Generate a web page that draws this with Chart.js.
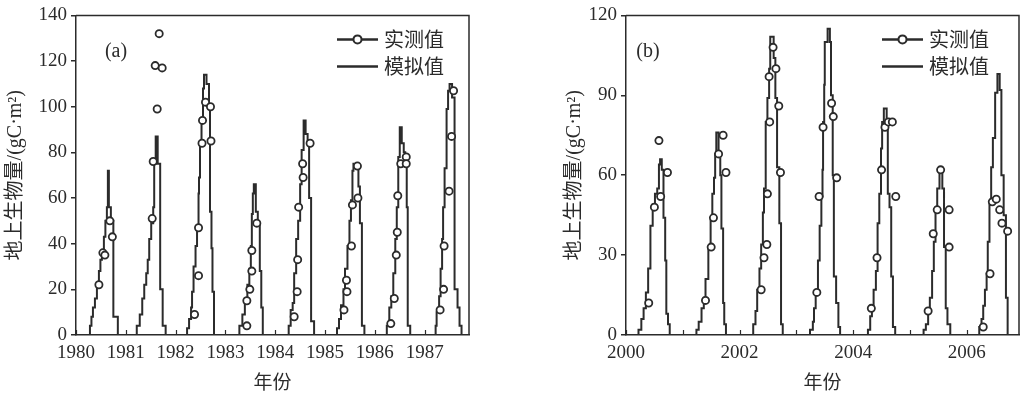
<!DOCTYPE html>
<html>
<head>
<meta charset="utf-8">
<script src="https://cdn.jsdelivr.net/npm/chart.js@4.4.1/dist/chart.umd.min.js"></script>
<style>
    html, body { margin: 0; padding: 0; background: #fff; }
    body { width: 1027px; height: 396px; position: relative; overflow: hidden; }
    canvas { position: absolute; top: 0; }
    #grafico-a { left: 0; }
    #grafico-b { left: 510px; }
</style>
</head>
<body>
<canvas id="grafico-a" width="500" height="396"></canvas>
<canvas id="grafico-b" width="517" height="396"></canvas>
<script>
// Panel (a): 1980-1987
const xTicksA = [1980, 1981, 1982, 1983, 1984, 1985, 1986, 1987];
const xLabelsA = ['1980', '1981', '1982', '1983', '1984', '1985', '1986', '1987'];
const yTicksA = [0, 20, 40, 60, 80, 100, 120, 140];

// Valores simulados (escalones): año donde empieza el escalón y su valor
const simYearsA = [
    1980.00,
    1980.28, 1980.31, 1980.34, 1980.38, 1980.42, 1980.46, 1980.49, 1980.52, 1980.56, 1980.59, 1980.62, 1980.64, 1980.66, 1980.70, 1980.75, 1980.84,
    1981.22, 1981.28, 1981.33, 1981.37, 1981.41, 1981.44, 1981.47, 1981.51, 1981.55, 1981.57, 1981.60, 1981.64, 1981.69, 1981.74, 1981.80,
    1982.23, 1982.27, 1982.31, 1982.33, 1982.36, 1982.40, 1982.43, 1982.46, 1982.47, 1982.49, 1982.52, 1982.55, 1982.57, 1982.62, 1982.67, 1982.69, 1982.72, 1982.74, 1982.77,
    1983.28, 1983.34, 1983.39, 1983.44, 1983.48, 1983.51, 1983.53, 1983.55, 1983.57, 1983.61, 1983.65, 1983.69, 1983.72, 1983.75,
    1984.27, 1984.31, 1984.35, 1984.38, 1984.42, 1984.46, 1984.50, 1984.53, 1984.57, 1984.61, 1984.65, 1984.68, 1984.72, 1984.78,
    1985.24, 1985.28, 1985.32, 1985.37, 1985.40, 1985.45, 1985.49, 1985.52, 1985.55, 1985.57, 1985.64, 1985.67, 1985.70, 1985.74, 1985.79,
    1986.24, 1986.29, 1986.33, 1986.37, 1986.41, 1986.44, 1986.47, 1986.50, 1986.54, 1986.58, 1986.61, 1986.64, 1986.66, 1986.71,
    1987.22, 1987.24, 1987.29, 1987.32, 1987.35, 1987.37, 1987.40, 1987.44, 1987.47, 1987.50, 1987.55, 1987.60, 1987.66, 1987.70, 1987.74,
    1987.89
];
const simValuesA = [
    0,
    4, 8, 12, 16, 22, 28, 33, 36, 43, 50, 56, 72, 56, 50, 8, 0,
    4, 9, 16, 22, 27, 33, 42, 49, 56, 75, 87, 75, 20, 4, 0,
    3, 7, 12, 19, 30, 39, 48, 62, 69, 83, 93, 108, 114, 110, 100, 54, 38, 19, 0,
    4, 9, 16, 22, 29, 39, 53, 62, 66, 54, 48, 28, 12, 0,
    4, 11, 14, 27, 42, 50, 66, 81, 94, 88, 85, 60, 6, 0,
    3, 7, 13, 20, 29, 39, 50, 59, 72, 75, 73, 65, 49, 4, 0,
    4, 12, 17, 27, 42, 56, 78, 91, 84, 80, 76, 56, 4, 0,
    4, 10, 17, 29, 42, 56, 73, 99, 107, 110, 104, 20, 12, 4, 0,
    0
];
// Valores medidos
const obsYearsA = [
    1980.46, 1980.54, 1980.58, 1980.68, 1980.73,
    1981.53, 1981.55, 1981.59, 1981.63, 1981.67, 1981.73,
    1982.38, 1982.46, 1982.46, 1982.53, 1982.54, 1982.60, 1982.70, 1982.71,
    1983.43, 1983.43, 1983.49, 1983.53, 1983.53, 1983.63,
    1984.38, 1984.44, 1984.45, 1984.47, 1984.55, 1984.56, 1984.70,
    1985.38, 1985.44, 1985.43, 1985.53, 1985.55, 1985.65, 1985.66,
    1986.32, 1986.39, 1986.43, 1986.45, 1986.46, 1986.52, 1986.63, 1986.63,
    1987.31, 1987.38, 1987.39, 1987.49, 1987.54, 1987.58
];
const obsValuesA = [
    22, 36, 35, 50, 43,
    51, 76, 118, 99, 132, 117,
    9, 26, 47, 84, 94, 102, 100, 85,
    4, 15, 20, 28, 37, 49,
    8, 19, 33, 56, 75, 69, 84,
    11, 19, 24, 39, 57, 74, 60,
    5, 16, 35, 45, 61, 75, 78, 75,
    11, 20, 39, 63, 87, 107
];

// Panel (b): 2000-2006
const xTicksB = [2000, 2001, 2002, 2003, 2004, 2005, 2006];
const xLabelsB = ['2000', '', '2002', '', '2004', '', '2006'];
const yTicksB = [0, 30, 60, 90, 120];

const simYearsB = [
    2000.00,
    2000.22, 2000.27, 2000.31, 2000.35, 2000.39, 2000.43, 2000.47, 2000.51, 2000.55, 2000.58, 2000.60, 2000.63, 2000.66, 2000.69, 2000.71, 2000.74, 2000.77,
    2001.24, 2001.28, 2001.33, 2001.37, 2001.40, 2001.45, 2001.49, 2001.52, 2001.55, 2001.57, 2001.59, 2001.63, 2001.66, 2001.68, 2001.71, 2001.73, 2001.76,
    2002.24, 2002.28, 2002.31, 2002.35, 2002.38, 2002.41, 2002.43, 2002.46, 2002.49, 2002.52, 2002.54, 2002.60, 2002.63, 2002.66, 2002.70, 2002.73, 2002.76,
    2003.24, 2003.29, 2003.31, 2003.34, 2003.38, 2003.41, 2003.44, 2003.46, 2003.47, 2003.49, 2003.50, 2003.55, 2003.59, 2003.61, 2003.64, 2003.66, 2003.70, 2003.74, 2003.77,
    2004.26, 2004.30, 2004.33, 2004.36, 2004.40, 2004.43, 2004.46, 2004.49, 2004.51, 2004.54, 2004.59, 2004.61, 2004.64, 2004.67, 2004.70, 2004.74,
    2005.24, 2005.28, 2005.32, 2005.35, 2005.39, 2005.42, 2005.45, 2005.48, 2005.52, 2005.57, 2005.60, 2005.63, 2005.66, 2005.71,
    2006.22, 2006.26, 2006.29, 2006.32, 2006.35, 2006.37, 2006.40, 2006.43, 2006.46, 2006.50, 2006.54, 2006.58, 2006.61, 2006.65, 2006.69, 2006.72,
    2006.92
];
const simValuesB = [
    0,
    2, 6, 10, 16, 25, 41, 49, 53, 55, 64, 66, 62, 44, 28, 8, 4, 0,
    2, 5, 10, 14, 21, 33, 43, 53, 59, 68, 76, 67, 60, 40, 12, 4, 0,
    4, 9, 17, 25, 34, 46, 55, 80, 89, 100, 112, 104, 89, 63, 42, 4, 0,
    2, 5, 10, 16, 28, 41, 52, 62, 80, 94, 110, 115, 110, 90, 60, 22, 12, 3, 0,
    2, 7, 11, 17, 24, 42, 53, 70, 80, 85, 80, 53, 48, 22, 3, 0,
    2, 4, 9, 14, 24, 35, 48, 55, 63, 55, 33, 10, 4, 0,
    3, 6, 11, 17, 23, 35, 49, 63, 74, 91, 98, 92, 60, 45, 14, 0,
    0
];
const obsYearsB = [
    2000.40, 2000.50, 2000.58, 2000.61, 2000.73,
    2001.40, 2001.50, 2001.54, 2001.63, 2001.71, 2001.76,
    2002.38, 2002.43, 2002.48, 2002.49, 2002.53, 2002.52, 2002.59, 2002.64, 2002.69, 2002.72,
    2003.36, 2003.40, 2003.47, 2003.62, 2003.65, 2003.71,
    2004.32, 2004.42, 2004.50, 2004.56, 2004.62, 2004.69, 2004.75,
    2005.32, 2005.41, 2005.48, 2005.54, 2005.69, 2005.69,
    2006.29, 2006.41, 2006.45, 2006.52, 2006.58, 2006.62, 2006.72
];
const obsValuesB = [
    12, 48, 73, 52, 61,
    13, 33, 44, 68, 75, 61,
    17, 29, 34, 53, 80, 97, 108, 100, 86, 61,
    16, 52, 78, 87, 82, 59,
    10, 29, 62, 78, 80, 80, 52,
    9, 38, 47, 62, 47, 33,
    3, 23, 50, 51, 47, 42, 39
];

const TINTA = '#2b2b2b';
const FUENTE_NUM = '"Liberation Serif", "Noto Sans CJK SC", serif';
const FUENTE_CJK = '"Noto Sans CJK SC", "Liberation Serif", sans-serif';

// Marco superior/derecho, marcas interiores del eje x, etiqueta del panel y leyenda
const marcoPlugin = {
    id: 'marco',
    afterDraw(chart, args, opts) {
        const { ctx, chartArea: a } = chart;
        const x = chart.scales.x;
        ctx.save();
        ctx.strokeStyle = TINTA;
        ctx.lineWidth = 1.5;
        ctx.beginPath();
        ctx.moveTo(a.left, a.top);
        ctx.lineTo(a.right, a.top);
        ctx.lineTo(a.right, a.bottom);
        ctx.stroke();

        ctx.lineWidth = 1.2;
        x.ticks.forEach(function (t) {
            const px = Math.round(x.getPixelForValue(t.value)) + 0.5;
            ctx.beginPath();
            ctx.moveTo(px, a.bottom);
            ctx.lineTo(px, a.bottom - 5);
            ctx.stroke();
        });

        ctx.fillStyle = TINTA;
        ctx.font = '20px ' + FUENTE_NUM;
        ctx.textAlign = 'center';
        ctx.textBaseline = 'middle';
        ctx.fillText(opts.etiqueta, a.left + opts.etiquetaX, a.top + 36);

        // leyenda
        const x0 = a.right - opts.leyendaX;
        const filas = [a.top + 24, a.top + 51];
        chart.data.datasets.forEach(function (ds, i) {
            const y = filas[i];
            ctx.strokeStyle = TINTA;
            ctx.lineWidth = 2.5;
            ctx.beginPath();
            ctx.moveTo(x0, y);
            ctx.lineTo(x0 + 41, y);
            ctx.stroke();
            if (ds.showLine === false) {
                ctx.beginPath();
                ctx.lineWidth = 2;
                ctx.fillStyle = '#fff';
                ctx.arc(x0 + 20.5, y, 4, 0, Math.PI * 2);
                ctx.fill();
                ctx.stroke();
            }
            ctx.fillStyle = TINTA;
            ctx.font = '20px ' + FUENTE_CJK;
            ctx.textAlign = 'left';
            ctx.fillText(ds.label, x0 + 47, y);
        });
        ctx.restore();
    }
};

function crearGrafico(id, d) {
    const medidos = d.obsYears.map((x, i) => ({ x: x, y: d.obsValues[i] }));
    const simulados = d.simYears.map((x, i) => ({ x: x, y: d.simValues[i] }));
    const ctx = document.getElementById(id).getContext('2d');
    return new Chart(ctx, {
        type: 'line',
        data: {
            datasets: [{
                label: '实测值',
                data: medidos,
                showLine: false,
                pointStyle: 'circle',
                pointRadius: 3.6,
                pointBorderWidth: 1.8,
                pointBorderColor: TINTA,
                pointBackgroundColor: '#fff',
                borderColor: TINTA,
                backgroundColor: '#fff'
            }, {
                label: '模拟值',
                data: simulados,
                stepped: 'before',
                borderColor: TINTA,
                borderWidth: 2,
                pointRadius: 0,
                fill: false
            }]
        },
        options: {
            responsive: false,
            animation: false,
            devicePixelRatio: 1,
            layout: { padding: { left: d.padIzq, right: d.padDer, top: 11, bottom: 0 } },
            plugins: {
                legend: { display: false },
                tooltip: { enabled: false },
                marco: { etiqueta: d.etiqueta, etiquetaX: d.etiquetaX, leyendaX: d.leyendaX }
            },
            scales: {
                x: {
                    type: 'linear',
                    min: d.xMin,
                    max: d.xMax,
                    afterFit: function (s) { s.height = 61; },
                    afterBuildTicks: function (s) { s.ticks = d.xTicks.map(v => ({ value: v })); },
                    ticks: {
                        callback: (v, i) => d.xLabels[i],
                        autoSkip: false,
                        maxRotation: 0,
                        padding: 7,
                        color: TINTA,
                        font: { family: FUENTE_NUM, size: 19 }
                    },
                    grid: { display: false, drawTicks: false },
                    border: { color: TINTA, width: 1.5 },
                    title: {
                        display: true,
                        text: '年份',
                        color: TINTA,
                        font: { family: FUENTE_CJK, size: 19 },
                        padding: { top: 0, bottom: 3 }
                    }
                },
                y: {
                    min: 0,
                    max: d.yMax,
                    afterFit: function (s) { s.width = d.anchoY; },
                    afterBuildTicks: function (s) { s.ticks = d.yTicks.map(v => ({ value: v })); },
                    ticks: {
                        padding: 4,
                        color: TINTA,
                        font: { family: FUENTE_NUM, size: 19 }
                    },
                    grid: { drawOnChartArea: false, tickLength: 5, color: TINTA, lineWidth: 1.5 },
                    border: { color: TINTA, width: 1.5 },
                    title: {
                        display: true,
                        text: '地上生物量/(gC·m²)',
                        color: TINTA,
                        font: { family: FUENTE_NUM, size: 20 },
                        padding: { top: 4, bottom: 0 }
                    }
                }
            }
        },
        plugins: [marcoPlugin]
    });
}

document.addEventListener('DOMContentLoaded', function () {
    crearGrafico('grafico-a', {
        simYears: simYearsA, simValues: simValuesA, obsYears: obsYearsA, obsValues: obsValuesA,
        xTicks: xTicksA, xLabels: xLabelsA, yTicks: yTicksA,
        xMin: 1980, xMax: 1987.89, yMax: 140,
        padIzq: 0, padDer: 31, anchoY: 76,
        etiqueta: '(a)', etiquetaX: 40, leyendaX: 132
    });
    crearGrafico('grafico-b', {
        simYears: simYearsB, simValues: simValuesB, obsYears: obsYearsB, obsValues: obsValuesB,
        xTicks: xTicksB, xLabels: xLabelsB, yTicks: yTicksB,
        xMin: 2000, xMax: 2006.92, yMax: 120,
        padIzq: 49, padDer: 8, anchoY: 67,
        etiqueta: '(b)', etiquetaX: 22, leyendaX: 137
    });
});
</script>
</body>
</html>
